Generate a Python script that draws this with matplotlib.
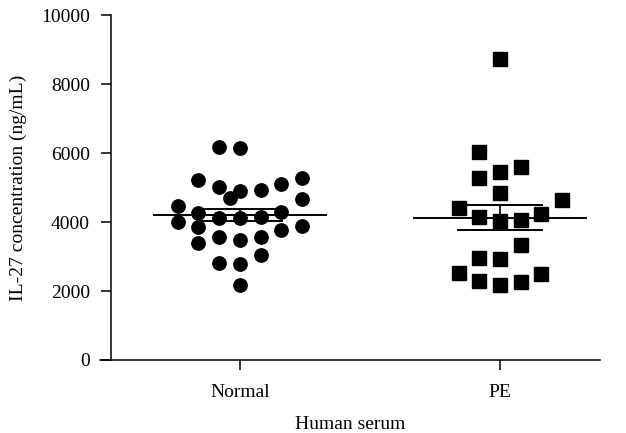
import numpy as np
import matplotlib
matplotlib.use("Agg")
import matplotlib.pyplot as plt

plt.rcParams['font.family'] = ['Liberation Serif', 'DejaVu Serif']

categories = ["Normal", "PE"]
normal_values = [4464, 4009,
                 5217, 4252, 3846, 3383,
                 6183, 5006, 4107, 3574, 2803,
                 6136, 4899, 4107, 3478, 2774, 2174,
                 4687,
                 4928, 4154, 3574, 3043,
                 5101, 4299, 3768,
                 5267, 4667, 3884]
normal_cols = [-3, -3,
               -2, -2, -2, -2,
               -1, -1, -1, -1, -1,
               0, 0, 0, 0, 0, 0,
               -0.5,
               1, 1, 1, 1,
               2, 2, 2,
               3, 3, 3]
pe_values = [4406, 2522,
             6039, 5266, 4154, 2947, 2300,
             8716, 5459, 4850, 4029, 2928, 2174,
             5604, 4058, 3333, 2271,
             4222, 2483,
             4638]
pe_cols = [-2, -2,
           -1, -1, -1, -1, -1,
           0, 0, 0, 0, 0, 0,
           1, 1, 1, 1,
           2, 2,
           3]
y_ticks = [0, 2000, 4000, 6000, 8000, 10000]

fig = plt.figure(figsize=(6.26, 4.33), dpi=100)
ax = fig.add_axes([100/626, 1-360/433, 500/626, 345/433])

step = 0.0796
groups = [(normal_values, normal_cols, 'o', 9.6), (pe_values, pe_cols, 's', 10.3)]
for i, (vals, cols, mk, ms) in enumerate(groups):
    v = np.array(vals, float)
    x = i + step*np.array(cols, float)
    ax.plot(x, v, linestyle='none', marker=mk, ms=ms, color='black', zorder=3)
    m = v.mean()
    sem = v.std(ddof=1)/np.sqrt(len(v))
    ax.hlines(m, i-0.335, i+0.335, color='black', lw=1.4, zorder=4)
    ax.hlines([m-sem, m+sem], i-0.165, i+0.165, color='black', lw=1.4, zorder=4)
    ax.vlines(i, m-sem, m+sem, color='black', lw=1.2, zorder=4)

ax.set_xlim(-0.538, 1.385)
ax.set_ylim(0, 10000)
ax.spines['top'].set_visible(False)
ax.spines['right'].set_visible(False)
ax.spines['left'].set_position(('data', -0.496))
for s in ['left', 'bottom']:
    ax.spines[s].set_linewidth(1.1)
fs = 14
ax.set_xticks([0, 1])
ax.set_xticklabels(categories, fontsize=fs)
ax.set_yticks(y_ticks)
ax.set_yticklabels([str(t) for t in y_ticks], fontsize=fs)
ax.tick_params(axis='y', direction='out', length=7, width=1.1, pad=8)
ax.tick_params(axis='x', direction='out', length=7, width=1.1, pad=10)
ax.set_xlabel("Human serum", fontsize=fs, labelpad=11)
ax.set_ylabel("IL-27 concentration (ng/mL)", fontsize=fs, labelpad=10)

fig.savefig("out.png", dpi=100)
